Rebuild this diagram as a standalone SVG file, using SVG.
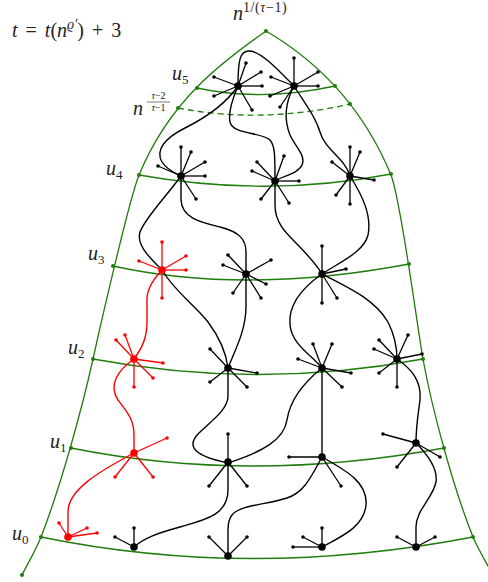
<svg xmlns="http://www.w3.org/2000/svg" width="488" height="582" viewBox="0 0 488 582">
<style>
.fr{fill:none;stroke:#1f7d0c;stroke-width:1.3}
.ds{stroke-dasharray:6,4}
.gd{fill:#1f7d0c}
.c{fill:none;stroke:#000;stroke-width:1.4}
.cr{fill:none;stroke:#f00;stroke-width:1.4}
.s{stroke:#000;stroke-width:1.3;marker-end:url(#d)}
.sr{stroke:#f00;stroke-width:1.3;marker-end:url(#dr)}
.h{fill:#000}
.hr{fill:#f00}
text{font-family:"Liberation Serif","DejaVu Serif",serif;fill:#222}
.it{font-style:italic}
</style>
<defs>
<marker id="d" markerUnits="userSpaceOnUse" markerWidth="6" markerHeight="6" refX="3" refY="3" viewBox="0 0 6 6"><circle cx="3" cy="3" r="1.8" fill="#000"/></marker>
<marker id="dr" markerUnits="userSpaceOnUse" markerWidth="6" markerHeight="6" refX="3" refY="3" viewBox="0 0 6 6"><circle cx="3" cy="3" r="1.8" fill="#f00"/></marker>
</defs>

<g id="labels">
<text x="12" y="37" font-size="20" word-spacing="3"><tspan class="it">t</tspan> = <tspan class="it">t</tspan>(<tspan class="it">n</tspan><tspan class="it" font-size="14" dy="-8">ϱ′</tspan><tspan dy="8">) + 3</tspan></text>
<text x="233" y="20" font-size="20"><tspan class="it">n</tspan><tspan font-size="14" dy="-8" letter-spacing="0.6">1/(<tspan class="it">τ</tspan>−1)</tspan></text>
<text x="172" y="80" font-size="20" class="it">u<tspan font-size="13" font-style="normal" dy="4">5</tspan></text>
<text x="133" y="115" font-size="20" class="it">n</text>
<text x="158.5" y="99" font-size="10" text-anchor="middle"><tspan class="it">τ</tspan>−2</text>
<line x1="147" y1="102" x2="170" y2="102" stroke="#222" stroke-width="0.6"/>
<text x="158.5" y="111" font-size="10" text-anchor="middle"><tspan class="it">τ</tspan>−1</text>
<text x="106" y="175" font-size="20" class="it">u<tspan font-size="13" font-style="normal" dy="4">4</tspan></text>
<text x="88" y="260" font-size="20" class="it">u<tspan font-size="13" font-style="normal" dy="4">3</tspan></text>
<text x="68" y="354" font-size="20" class="it">u<tspan font-size="13" font-style="normal" dy="4">2</tspan></text>
<text x="50" y="448" font-size="20" class="it">u<tspan font-size="13" font-style="normal" dy="4">1</tspan></text>
<text x="12" y="540" font-size="20" class="it">u<tspan font-size="13" font-style="normal" dy="4">0</tspan></text>
</g>

<g id="frame">
<path class="fr" d="M266,31 C222,62 170,100 139,175 C129,200 99.6,329 93,359 C82,409 60.5,487 41,537 C36,550 28,563 22,575"/>
<path class="fr" d="M266,31 C312,58 360,100 391,175 C401,200 417.5,329 423,359 C432,409 453,487 473,537 C478,549 486,562 493,575"/>
<path class="fr" d="M197,88 Q262,102 335,86"/>
<path class="fr ds" d="M178,108 Q262,124 350,104"/>
<path class="fr" d="M139,175 Q268,198 391,174"/>
<path class="fr" d="M113,266 Q245,295 409,264"/>
<path class="fr" d="M93,359 Q258,390 423,359"/>
<path class="fr" d="M71,448 Q250,484 444,448"/>
<path class="fr" d="M41,537 Q250,580 473,537"/>
<g class="gd">
<circle cx="266" cy="31" r="2"/><circle cx="197" cy="88" r="2"/><circle cx="335" cy="86" r="2"/>
<circle cx="178" cy="108" r="2"/><circle cx="350" cy="104" r="2"/>
<circle cx="139" cy="175" r="2"/><circle cx="391" cy="174" r="2"/>
<circle cx="113" cy="266" r="2"/><circle cx="409" cy="264" r="2"/>
<circle cx="93" cy="359" r="2"/><circle cx="423" cy="359" r="2"/>
<circle cx="71" cy="448" r="2"/><circle cx="444" cy="448" r="2"/>
<circle cx="41" cy="537" r="2"/><circle cx="473" cy="537" r="2"/>
<circle cx="22" cy="575" r="2"/>
</g>
</g>

<g id="connectors">
<path class="c" d="M238,86 C238,60 240,50 250,51 C262,52 280,72 294,86"/>
<path class="c" d="M238,86 C225,105 205,118 185,128 C165,138 155,150 162,162 C167,170 175,173 181,176"/>
<path class="c" d="M238,86 C232,100 228,112 230,122 C233,135 262,132 270,140 C275,146 275,155 275,181"/>
<path class="c" d="M294,86 C284,105 284,120 290,135 C296,148 306,155 302,165 C298,174 282,176 275,181"/>
<path class="c" d="M294,86 C306,105 316,118 320,132 C325,150 345,158 350,176"/>
<path class="c" d="M181,176 C165,198 145,218 140,232 C136,245 150,258 162,270"/>
<path class="c" d="M181,176 L181,200 C182,218 200,222 220,227 C240,232 246,240 246,252 L246,274"/>
<path class="c" d="M275,181 L275,205 C275,222 285,232 295,242 C308,255 316,264 322,274"/>
<path class="c" d="M350,176 C362,195 372,215 368,235 C364,252 340,262 322,274"/>
<path class="c" d="M162,270 C175,292 195,305 208,322 C220,338 226,352 228,368"/>
<path class="c" d="M246,274 L246,306 C246,330 236,348 228,368"/>
<path class="c" d="M322,274 C302,288 288,305 290,325 C292,345 312,355 322,368"/>
<path class="c" d="M322,274 C350,288 375,300 388,322 C395,336 397,348 397,359"/>
<path class="c" d="M228,368 L228,396 C228,410 210,422 198,434 C186,447 195,456 228,463"/>
<path class="c" d="M322,368 C302,384 290,400 287,420 C284,440 262,452 228,463"/>
<path class="c" d="M322,368 L322,457"/>
<path class="c" d="M397,359 C410,368 422,380 420,400 C418,416 416,426 416,443"/>
<path class="c" d="M228,462 L228,490 C228,515 205,520 180,527 C158,533 144,538 134,547"/>
<path class="c" d="M322,457 C312,475 305,492 287,498 C265,505 240,505 232,515 C228,520 228,525 228,530 L228,556"/>
<path class="c" d="M322,457 C345,470 368,482 366,505 C364,528 338,538 322,547"/>
<path class="c" d="M416,443 C428,455 438,468 436,482 C433,498 416,510 416,527 L416,547"/>
<path class="cr" d="M162,270 C150,283 146,292 147,305 L147,322 C147,338 142,348 134,359"/>
<path class="cr" d="M134,359 C118,370 108,385 118,400 C128,413 134,420 134,435 L134,453"/>
<path class="cr" d="M134,453 C98,472 68,490 68,512 L68,537"/>
</g>

<g id="T1"><line class="s" x1="238" y1="86" x2="246" y2="63"/><line class="s" x1="238" y1="86" x2="261" y2="72"/><line class="s" x1="238" y1="86" x2="262" y2="86"/><line class="s" x1="238" y1="86" x2="252" y2="110"/><line class="s" x1="238" y1="86" x2="214" y2="77"/><line class="s" x1="238" y1="86" x2="214" y2="96"/><circle class="h" cx="238" cy="86" r="3.8"/></g>
<g id="T2"><line class="s" x1="294" y1="86" x2="294" y2="58"/><line class="s" x1="294" y1="86" x2="318" y2="72"/><line class="s" x1="294" y1="86" x2="318" y2="86"/><line class="s" x1="294" y1="86" x2="271" y2="77"/><line class="s" x1="294" y1="86" x2="270" y2="96"/><line class="s" x1="294" y1="86" x2="280" y2="107"/><circle class="h" cx="294" cy="86" r="3.8"/></g>

<g id="A"><line class="s" x1="181" y1="176" x2="181" y2="147"/><line class="s" x1="181" y1="176" x2="191" y2="152"/><line class="s" x1="181" y1="176" x2="205" y2="162"/><line class="s" x1="181" y1="176" x2="205" y2="176"/><line class="s" x1="181" y1="176" x2="196" y2="199"/><line class="s" x1="181" y1="176" x2="158" y2="166"/><circle class="h" cx="181" cy="176" r="3.8"/></g>
<g id="B"><line class="s" x1="275" y1="181" x2="257" y2="162"/><line class="s" x1="275" y1="181" x2="252" y2="171"/><line class="s" x1="275" y1="181" x2="284" y2="156"/><line class="s" x1="275" y1="181" x2="299" y2="181"/><line class="s" x1="275" y1="181" x2="289" y2="203"/><line class="s" x1="275" y1="181" x2="261" y2="199"/><circle class="h" cx="275" cy="181" r="3.8"/></g>
<g id="C"><line class="s" x1="350" y1="176" x2="350" y2="147"/><line class="s" x1="350" y1="176" x2="360" y2="152"/><line class="s" x1="350" y1="176" x2="332" y2="162"/><line class="s" x1="350" y1="176" x2="374" y2="180"/><line class="s" x1="350" y1="176" x2="336" y2="195"/><line class="s" x1="350" y1="176" x2="350" y2="204"/><circle class="h" cx="350" cy="176" r="3.8"/></g>

<g id="R3"><line class="sr" x1="162" y1="270" x2="162" y2="242"/><line class="sr" x1="162" y1="270" x2="186" y2="256"/><line class="sr" x1="162" y1="270" x2="186" y2="270"/><line class="sr" x1="162" y1="270" x2="139" y2="261"/><line class="sr" x1="162" y1="270" x2="162" y2="298"/><circle class="hr" cx="162" cy="270" r="3.8"/></g>
<g id="D"><line class="s" x1="246" y1="274" x2="228" y2="255"/><line class="s" x1="246" y1="274" x2="223" y2="265"/><line class="s" x1="246" y1="274" x2="271" y2="260"/><line class="s" x1="246" y1="274" x2="266" y2="284"/><line class="s" x1="246" y1="274" x2="261" y2="298"/><line class="s" x1="246" y1="274" x2="233" y2="293"/><circle class="h" cx="246" cy="274" r="3.8"/></g>
<g id="E"><line class="s" x1="322" y1="274" x2="322" y2="246"/><line class="s" x1="322" y1="274" x2="346" y2="269"/><line class="s" x1="322" y1="274" x2="337" y2="298"/><line class="s" x1="322" y1="274" x2="322" y2="303"/><circle class="h" cx="322" cy="274" r="3.8"/></g>

<g id="R2"><line class="sr" x1="134" y1="359" x2="116" y2="340"/><line class="sr" x1="134" y1="359" x2="125" y2="335"/><line class="sr" x1="134" y1="359" x2="163" y2="363"/><line class="sr" x1="134" y1="359" x2="153" y2="378"/><line class="sr" x1="134" y1="359" x2="134" y2="387"/><circle class="hr" cx="134" cy="359" r="3.8"/></g>
<g id="F"><line class="s" x1="228" y1="368" x2="210" y2="349"/><line class="s" x1="228" y1="368" x2="210" y2="382"/><line class="s" x1="228" y1="368" x2="257" y2="373"/><line class="s" x1="228" y1="368" x2="247" y2="387"/><circle class="h" cx="228" cy="368" r="3.8"/></g>
<g id="G"><line class="s" x1="322" y1="368" x2="313" y2="344"/><line class="s" x1="322" y1="368" x2="332" y2="344"/><line class="s" x1="322" y1="368" x2="298" y2="359"/><line class="s" x1="322" y1="368" x2="351" y2="373"/><line class="s" x1="322" y1="368" x2="342" y2="387"/><circle class="h" cx="322" cy="368" r="3.8"/></g>
<g id="H"><line class="s" x1="397" y1="359" x2="379" y2="340"/><line class="s" x1="397" y1="359" x2="408" y2="335"/><line class="s" x1="397" y1="359" x2="374" y2="349"/><line class="s" x1="397" y1="359" x2="422" y2="354"/><line class="s" x1="397" y1="359" x2="379" y2="373"/><line class="s" x1="397" y1="359" x2="397" y2="387"/><circle class="h" cx="397" cy="359" r="3.8"/></g>

<g id="R1"><line class="sr" x1="134" y1="453" x2="167" y2="438"/><line class="sr" x1="134" y1="453" x2="115" y2="477"/><line class="sr" x1="134" y1="453" x2="153" y2="477"/><circle class="hr" cx="134" cy="453" r="3.8"/></g>
<g id="I"><line class="s" x1="228" y1="462" x2="228" y2="434"/><line class="s" x1="228" y1="462" x2="209" y2="486"/><line class="s" x1="228" y1="462" x2="247" y2="486"/><circle class="h" cx="228" cy="462" r="3.8"/></g>
<g id="J"><line class="s" x1="322" y1="457" x2="289" y2="457"/><line class="s" x1="322" y1="457" x2="341" y2="486"/><circle class="h" cx="322" cy="457" r="3.8"/></g>
<g id="K"><line class="s" x1="416" y1="443" x2="383" y2="434"/><line class="s" x1="416" y1="443" x2="440" y2="457"/><line class="s" x1="416" y1="443" x2="397" y2="467"/><circle class="h" cx="416" cy="443" r="3.8"/></g>

<g id="R0"><line class="sr" x1="68" y1="537" x2="59" y2="523"/><line class="sr" x1="68" y1="537" x2="87" y2="528"/><line class="sr" x1="68" y1="537" x2="97" y2="533"/><circle class="hr" cx="68" cy="537" r="3.8"/></g>
<g id="L0"><line class="s" x1="134" y1="547" x2="115" y2="537"/><line class="s" x1="134" y1="547" x2="134" y2="528"/><circle class="h" cx="134" cy="547" r="3.8"/></g>
<g id="M0"><line class="s" x1="228" y1="556" x2="209" y2="537"/><line class="s" x1="228" y1="556" x2="247" y2="537"/><circle class="h" cx="228" cy="556" r="3.8"/></g>
<g id="N0"><line class="s" x1="322" y1="547" x2="303" y2="537"/><line class="s" x1="322" y1="547" x2="322" y2="528"/><line class="s" x1="322" y1="547" x2="293" y2="547"/><circle class="h" cx="322" cy="547" r="3.8"/></g>
<g id="O0"><line class="s" x1="416" y1="547" x2="397" y2="537"/><line class="s" x1="416" y1="547" x2="435" y2="537"/><circle class="h" cx="416" cy="547" r="3.8"/></g>
</svg>
